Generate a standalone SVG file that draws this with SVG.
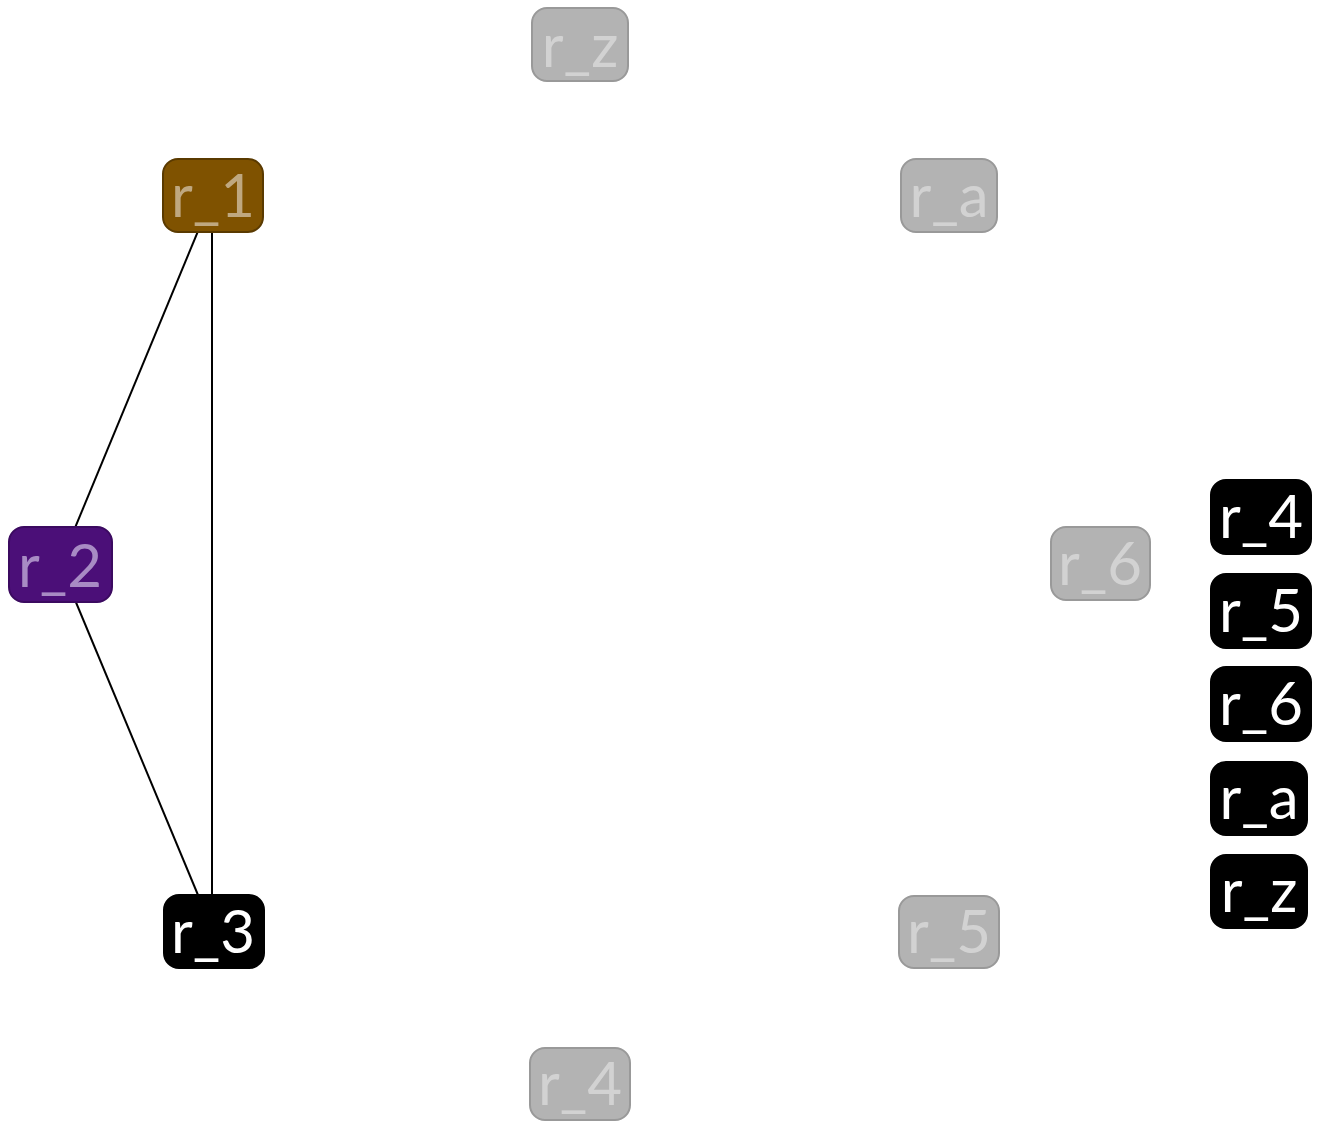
<svg xmlns="http://www.w3.org/2000/svg" width="1321" height="1127" viewBox="0 0 1321 1127">
<style>
.n rect{stroke-width:2}
.n text{font-family:"Lato","Liberation Sans",sans-serif;font-size:60px;text-anchor:middle}
.gray rect{fill:#b3b3b3;stroke:#999999}
.gray text{fill:#d2d2d2}
.blk rect{fill:#000000;stroke:#000000}
.blk text{fill:#ffffff}
.edges line{stroke:#000000;stroke-width:2}
</style>
<rect width="1321" height="1127" fill="#ffffff"/>
<g id="edges" class="edges">
<line x1="213" y1="195" x2="60" y2="564"/>
<line x1="212" y1="195" x2="212" y2="931"/>
<line x1="60" y1="564" x2="213" y2="931"/>
</g>
<g id="node-rz" class="n gray"><rect x="532" y="8" width="96" height="73" rx="15"/><text x="580" y="67">r_z</text></g>
<g id="node-r1" class="n"><rect x="163" y="159" width="100" height="73" rx="15" fill="#7f5200" stroke="#5a3a00"/><text x="213" y="217" fill="#bfa880">r_1</text></g>
<g id="node-ra" class="n gray"><rect x="901" y="159" width="96" height="73" rx="15"/><text x="949" y="217">r_a</text></g>
<g id="node-r2" class="n"><rect x="9" y="527" width="103" height="75" rx="15" fill="#4b0f78" stroke="#3b0a60"/><text x="60" y="587" fill="#a88bc4">r_2</text></g>
<g id="node-r6g" class="n gray"><rect x="1051" y="527" width="99" height="73" rx="15"/><text x="1100" y="585">r_6</text></g>
<g id="node-r3" class="n blk"><rect x="164" y="895" width="100" height="73" rx="15"/><text x="213" y="953">r_3</text></g>
<g id="node-r5g" class="n gray"><rect x="899" y="896" width="100" height="72" rx="15"/><text x="949" y="953">r_5</text></g>
<g id="node-r4g" class="n gray"><rect x="530" y="1048" width="100" height="72" rx="15"/><text x="580" y="1105">r_4</text></g>
<g id="legend-r4" class="n blk"><rect x="1211" y="480" width="100" height="74" rx="15"/><text x="1261" y="538">r_4</text></g>
<g id="legend-r5" class="n blk"><rect x="1211" y="574" width="100" height="74" rx="15"/><text x="1261" y="632">r_5</text></g>
<g id="legend-r6" class="n blk"><rect x="1211" y="667" width="100" height="74" rx="15"/><text x="1261" y="725">r_6</text></g>
<g id="legend-ra" class="n blk"><rect x="1211" y="762" width="96" height="73" rx="15"/><text x="1259" y="819">r_a</text></g>
<g id="legend-rz" class="n blk"><rect x="1211" y="855" width="96" height="73" rx="15"/><text x="1259" y="912">r_z</text></g>
</svg>
